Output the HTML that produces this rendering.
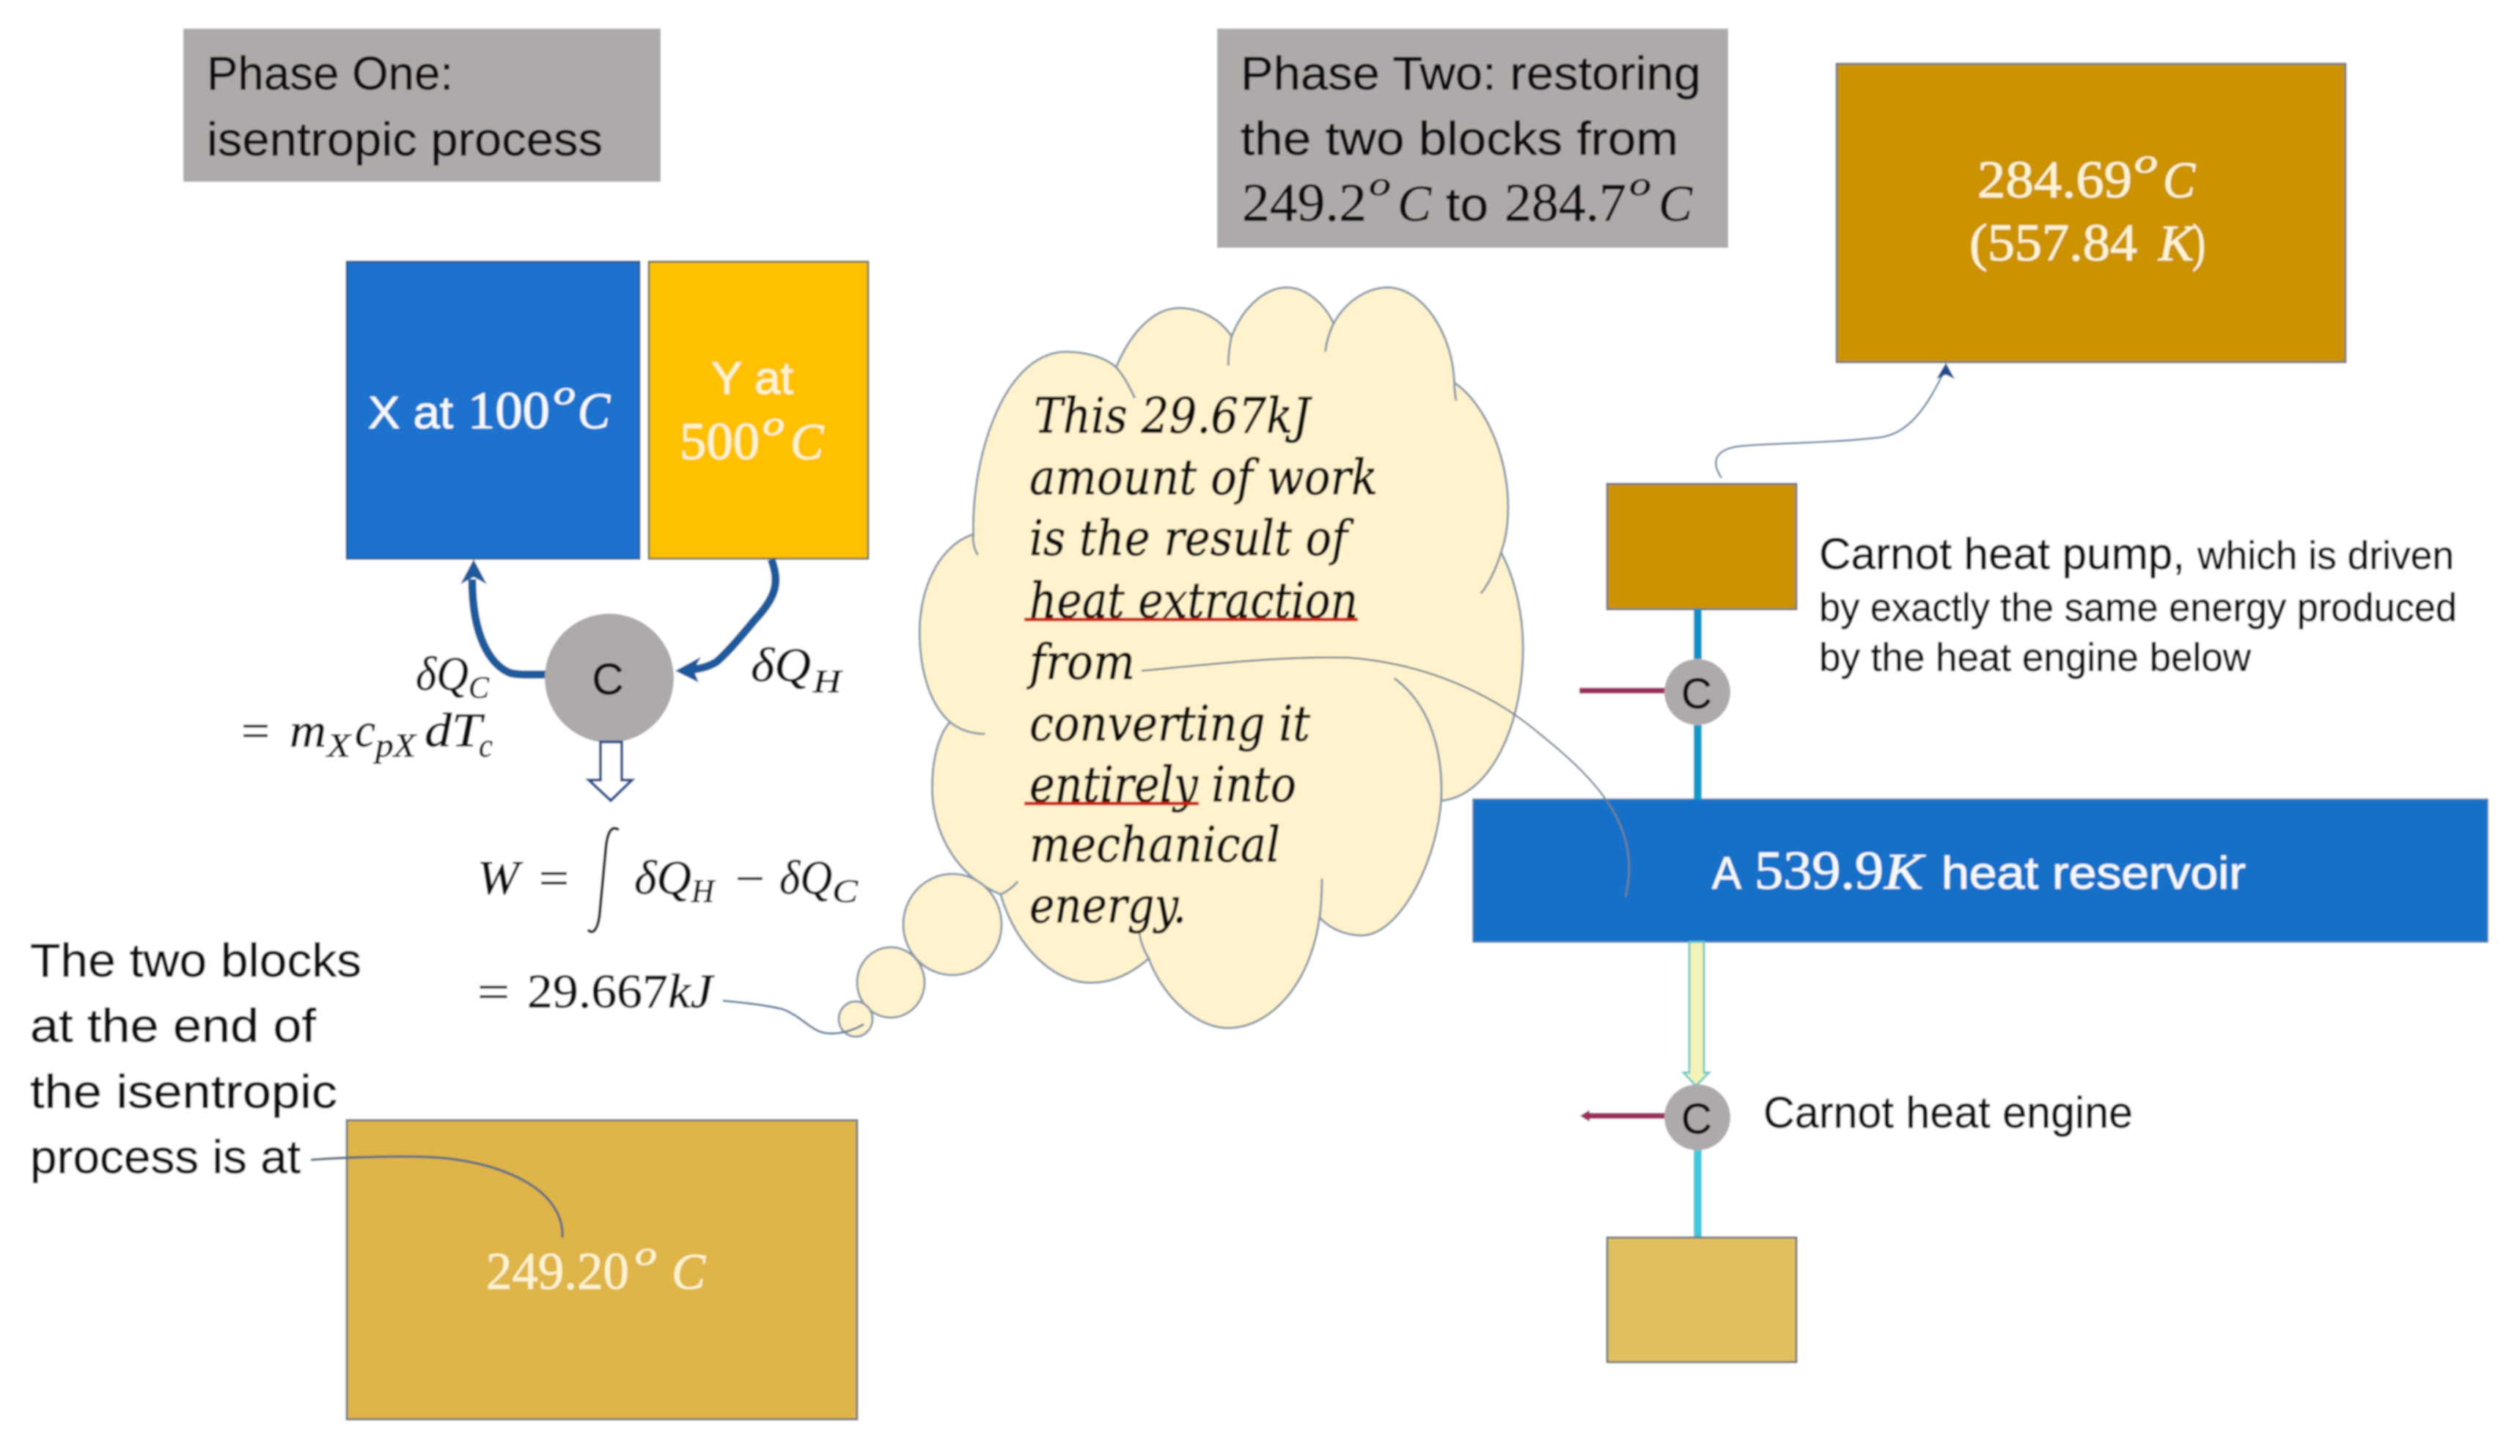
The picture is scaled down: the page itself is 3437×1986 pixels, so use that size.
<!DOCTYPE html>
<html><head><meta charset="utf-8"><style>
html,body{margin:0;padding:0;background:#fff;width:3437px;height:1986px;overflow:hidden}
svg{display:block}
.s{font-family:"Liberation Sans",sans-serif;fill:#0e0e0e;stroke:#0e0e0e;stroke-width:.7px}
.m{font-family:"Liberation Serif",serif;fill:#0e0e0e;stroke:#0e0e0e;stroke-width:.7px}
.i{font-family:"Liberation Serif",serif;font-style:italic;fill:#0e0e0e;stroke:#0e0e0e;stroke-width:.7px}
.c{fill:#fdf3d0;stroke:#fdf3d0}.w{fill:#f4f8fc;stroke:#f4f8fc}
.t{font-family:"DejaVu Serif",serif;font-style:italic;fill:#0e0e0e;font-size:66px;stroke:#0e0e0e;stroke-width:.9px}
</style></head><body>
<svg xmlns="http://www.w3.org/2000/svg" width="3437" height="1986" viewBox="0 0 3437 1986">
<defs>
<filter id="b" x="0" y="0" width="100%" height="100%"><feGaussianBlur stdDeviation="1"/></filter>
</defs>
<g filter="url(#b)">
<rect width="3437" height="1986" fill="#fff"/>
<!-- Header boxes -->
<rect x="250" y="39" width="651" height="209" fill="#aeaaa9"/>
<text class="s" x="282" y="122" font-size="64" textLength="336" lengthAdjust="spacingAndGlyphs">Phase One:</text>
<text class="s" x="282" y="212" font-size="64" textLength="540" lengthAdjust="spacingAndGlyphs">isentropic process</text>

<rect x="1660" y="39" width="697" height="299" fill="#aeaaa9"/>
<text class="s" x="1692" y="122" font-size="64" textLength="628" lengthAdjust="spacingAndGlyphs">Phase Two: restoring</text>
<text class="s" x="1692" y="211" font-size="64" textLength="597" lengthAdjust="spacingAndGlyphs">the two blocks from</text>
<text class="m" x="1694" y="301" font-size="74" textLength="170" lengthAdjust="spacingAndGlyphs">249.2</text>
<text class="i" x="1867" y="266" font-size="46" textLength="30" lengthAdjust="spacingAndGlyphs">o</text>
<text class="i" x="1906" y="301" font-size="70" textLength="46" lengthAdjust="spacingAndGlyphs">C</text>
<text class="s" x="1972" y="301" font-size="64" textLength="58" lengthAdjust="spacingAndGlyphs">to</text>
<text class="m" x="2052" y="301" font-size="74" textLength="166" lengthAdjust="spacingAndGlyphs">284.7</text>
<text class="i" x="2222" y="266" font-size="46" textLength="30" lengthAdjust="spacingAndGlyphs">o</text>
<text class="i" x="2262" y="301" font-size="70" textLength="46" lengthAdjust="spacingAndGlyphs">C</text>

<!-- Top right box -->
<rect x="2505" y="87" width="694" height="407" fill="#cc9200" stroke="#6e7a7f" stroke-width="3"/>
<text class="m c" x="2697" y="269" font-size="72" textLength="211" lengthAdjust="spacingAndGlyphs">284.69</text>
<text class="i c" x="2911" y="235" font-size="46" textLength="32" lengthAdjust="spacingAndGlyphs">o</text>
<text class="i c" x="2950" y="269" font-size="70" textLength="44" lengthAdjust="spacingAndGlyphs">C</text>
<text class="m c" x="2686" y="355" font-size="72" textLength="229" lengthAdjust="spacingAndGlyphs">(557.84</text>
<text class="i c" x="2944" y="355" font-size="70" textLength="48" lengthAdjust="spacingAndGlyphs">K</text>
<text class="m c" x="2990" y="355" font-size="72" textLength="18" lengthAdjust="spacingAndGlyphs">)</text>

<!-- X and Y blocks -->
<rect x="473" y="357" width="399" height="405" fill="#1a72cc" stroke="#2a5f95" stroke-width="3"/>
<rect x="885" y="357" width="299" height="405" fill="#ffc000" stroke="#7a7a50" stroke-width="3"/>
<text class="s w" x="502" y="584" font-size="62" textLength="116" lengthAdjust="spacingAndGlyphs">X at</text>
<text class="m w" x="638" y="584" font-size="72" textLength="112" lengthAdjust="spacingAndGlyphs">100</text>
<text class="i w" x="755" y="551" font-size="46" textLength="30" lengthAdjust="spacingAndGlyphs">o</text>
<text class="i w" x="788" y="584" font-size="70" textLength="44" lengthAdjust="spacingAndGlyphs">C</text>
<text class="s c" x="970" y="537" font-size="62" textLength="112" lengthAdjust="spacingAndGlyphs">Y at</text>
<text class="m c" x="927" y="626" font-size="72" textLength="109" lengthAdjust="spacingAndGlyphs">500</text>
<text class="i c" x="1040" y="593" font-size="46" textLength="30" lengthAdjust="spacingAndGlyphs">o</text>
<text class="i c" x="1078" y="626" font-size="70" textLength="45" lengthAdjust="spacingAndGlyphs">C</text>

<!-- Engine arrows -->
<path d="M745,920 C725,920 708,921 696,918 C670,908 644,870 644,790" fill="none" stroke="#1a5a9c" stroke-width="11"/>
<path d="M646,763 L628,797 L646,787 L664,797 Z" fill="#1a5a9c"/>
<path d="M1052,763 C1064,795 1058,815 1029,846 C1005,875 990,892 977,903 C965,910 955,912 940,914" fill="none" stroke="#1a5a9c" stroke-width="11"/>
<path d="M921,915 L956,896 L946,914 L953,931 Z" fill="#1a5a9c"/>
<ellipse cx="831" cy="925" rx="88" ry="88" fill="#aeaaa9"/>
<text class="s" x="829" y="947" font-size="60" text-anchor="middle">C</text>
<path d="M819,1012 H848 V1064 H862 L833,1092 L803,1064 H819 Z" fill="#fff" stroke="#1f4e8a" stroke-width="4"/>

<!-- Math labels -->
<text class="i" x="567" y="941" font-size="66" textLength="72" lengthAdjust="spacingAndGlyphs">δQ</text>
<text class="i" x="639" y="952" font-size="42" textLength="28" lengthAdjust="spacingAndGlyphs">C</text>
<text class="m" x="329" y="1018" font-size="64" textLength="39" lengthAdjust="spacingAndGlyphs">=</text>
<text class="i" x="395" y="1018" font-size="66" textLength="50" lengthAdjust="spacingAndGlyphs">m</text>
<text class="i" x="446" y="1032" font-size="46" textLength="32" lengthAdjust="spacingAndGlyphs">X</text>
<text class="i" x="484" y="1018" font-size="66" textLength="28" lengthAdjust="spacingAndGlyphs">c</text>
<text class="i" x="512" y="1032" font-size="46" textLength="55" lengthAdjust="spacingAndGlyphs">pX</text>
<text class="i" x="579" y="1018" font-size="66" textLength="78" lengthAdjust="spacingAndGlyphs">dT</text>
<text class="i" x="653" y="1032" font-size="46" textLength="19" lengthAdjust="spacingAndGlyphs">c</text>
<text class="i" x="1024" y="929" font-size="66" textLength="82" lengthAdjust="spacingAndGlyphs">δQ</text>
<text class="i" x="1109" y="944" font-size="44" textLength="38" lengthAdjust="spacingAndGlyphs">H</text>

<text class="i" x="651" y="1219" font-size="66" textLength="57" lengthAdjust="spacingAndGlyphs">W</text>
<text class="m" x="735" y="1219" font-size="64" textLength="41" lengthAdjust="spacingAndGlyphs">=</text>
<path d="M844,1132 C834,1125 828,1135 826,1160 L818,1245 C816,1268 808,1276 802,1268" fill="none" stroke="#111" stroke-width="4"/>
<text class="i" x="865" y="1219" font-size="66" textLength="78" lengthAdjust="spacingAndGlyphs">δQ</text>
<text class="i" x="943" y="1230" font-size="44" textLength="31" lengthAdjust="spacingAndGlyphs">H</text>
<text class="m" x="1003" y="1219" font-size="62" textLength="40" lengthAdjust="spacingAndGlyphs">−</text>
<text class="i" x="1063" y="1219" font-size="66" textLength="72" lengthAdjust="spacingAndGlyphs">δQ</text>
<text class="i" x="1135" y="1230" font-size="44" textLength="35" lengthAdjust="spacingAndGlyphs">C</text>
<text class="m" x="651" y="1374" font-size="64" textLength="44" lengthAdjust="spacingAndGlyphs">=</text>
<text class="m" x="719" y="1374" font-size="66" textLength="192" lengthAdjust="spacingAndGlyphs">29.667</text>
<text class="i" x="911" y="1374" font-size="66" textLength="61" lengthAdjust="spacingAndGlyphs">kJ</text>

<!-- Left text -->
<text class="s" x="41" y="1332" font-size="64" textLength="452" lengthAdjust="spacingAndGlyphs">The two blocks</text>
<text class="s" x="41" y="1421" font-size="64" textLength="390" lengthAdjust="spacingAndGlyphs">at the end of</text>
<text class="s" x="41" y="1511" font-size="64" textLength="419" lengthAdjust="spacingAndGlyphs">the isentropic</text>
<text class="s" x="41" y="1600" font-size="64" textLength="369" lengthAdjust="spacingAndGlyphs">process is at</text>

<!-- 249 box -->
<rect x="473" y="1528" width="696" height="408" fill="#dfb44a" stroke="#6e7a7f" stroke-width="3"/>
<path d="M424,1582 C480,1578 560,1576 597,1579 C680,1585 770,1620 767,1688" fill="none" stroke="#5f6f7f" stroke-width="3.5"/>
<text class="m c" x="663" y="1758" font-size="72" textLength="195" lengthAdjust="spacingAndGlyphs">249.20</text>
<text class="i c" x="866" y="1725" font-size="46" textLength="30" lengthAdjust="spacingAndGlyphs">o</text>
<text class="i c" x="916" y="1758" font-size="70" textLength="46" lengthAdjust="spacingAndGlyphs">C</text>

<!-- Cloud -->
<g transform="translate(1200 350) scale(.638 .7015)">
<path d="M258,1240 C150,1200 110,1100 112,1030 C112,980 125,930 150,905 C105,870 85,800 85,730 C85,640 130,560 200,540 C195,400 260,190 395,185 C440,185 480,195 505,215 C540,140 590,100 640,100 C690,100 730,125 752,155 C780,90 830,60 870,60 C910,60 950,90 970,130 C1000,80 1050,60 1085,60 C1160,60 1225,150 1228,245 C1300,290 1345,400 1343,490 C1343,520 1338,550 1328,575 C1360,630 1375,700 1375,760 C1375,920 1300,1050 1200,1058 C1190,1180 1110,1320 1030,1320 C1000,1320 965,1310 940,1285 C920,1420 830,1500 745,1500 C670,1500 600,1430 575,1365 C530,1400 490,1412 450,1412 C370,1412 290,1340 258,1240 Z" fill="#fff2cc" stroke="#8497a8" stroke-width="3" vector-effect="non-scaling-stroke"/>
<g fill="none" stroke="#8497a8" stroke-width="3">
<path vector-effect="non-scaling-stroke" d="M150,905 C170,920 195,928 225,928"/>
<path vector-effect="non-scaling-stroke" d="M200,540 C198,555 202,570 210,580"/>
<path vector-effect="non-scaling-stroke" d="M505,215 C520,230 535,255 545,275"/>
<path vector-effect="non-scaling-stroke" d="M752,155 C748,170 745,190 745,212"/>
<path vector-effect="non-scaling-stroke" d="M970,130 C962,145 955,165 952,185"/>
<path vector-effect="non-scaling-stroke" d="M1228,245 C1228,258 1230,270 1232,280"/>
<path vector-effect="non-scaling-stroke" d="M1328,575 C1318,605 1305,632 1285,655"/>
<path vector-effect="non-scaling-stroke" d="M1200,1058 C1205,960 1175,870 1100,820"/>
<path vector-effect="non-scaling-stroke" d="M940,1285 C944,1260 945,1235 945,1210"/>
<path vector-effect="non-scaling-stroke" d="M575,1365 C565,1350 558,1335 555,1315"/>
<path vector-effect="non-scaling-stroke" d="M258,1240 C272,1235 285,1225 295,1215"/>
</g>
</g>
<ellipse cx="1299" cy="1261" rx="67" ry="69" fill="#fff2cc" stroke="#8497a8" stroke-width="3"/>
<ellipse cx="1215" cy="1340" rx="46" ry="48" fill="#fff2cc" stroke="#8497a8" stroke-width="3"/>
<ellipse cx="1167" cy="1390" rx="23" ry="24" fill="#fff2cc" stroke="#8497a8" stroke-width="3"/>
<path d="M986,1365 C1020,1368 1050,1372 1069,1377 C1095,1388 1105,1405 1125,1409 C1145,1412 1165,1405 1178,1397" fill="none" stroke="#5f7f9f" stroke-width="3"/>

<text class="t" x="1410" y="590" textLength="377" lengthAdjust="spacingAndGlyphs">This 29.67kJ</text>
<text class="t" x="1404" y="674" textLength="475" lengthAdjust="spacingAndGlyphs">amount of work</text>
<text class="t" x="1404" y="757" textLength="434" lengthAdjust="spacingAndGlyphs">is the result of</text>
<text class="t" x="1404" y="842" textLength="448" lengthAdjust="spacingAndGlyphs">heat extraction</text>
<text class="t" x="1404" y="926" textLength="144" lengthAdjust="spacingAndGlyphs">from</text>
<text class="t" x="1404" y="1010" textLength="383" lengthAdjust="spacingAndGlyphs">converting it</text>
<text class="t" x="1404" y="1093" textLength="364" lengthAdjust="spacingAndGlyphs">entirely into</text>
<text class="t" x="1404" y="1175" textLength="342" lengthAdjust="spacingAndGlyphs">mechanical</text>
<text class="t" x="1404" y="1258" textLength="214" lengthAdjust="spacingAndGlyphs">energy.</text>
<line x1="1397" y1="845" x2="1852" y2="845" stroke="#c8200f" stroke-width="5"/>
<line x1="1397" y1="1096" x2="1635" y2="1096" stroke="#c8200f" stroke-width="5"/>

<!-- Reservoir -->
<rect x="2009" y="1090" width="1384" height="195" fill="#1870c8" stroke="#5a86b0" stroke-width="2"/>
<text class="s w" x="2335" y="1212" font-size="62" textLength="40" lengthAdjust="spacingAndGlyphs">A</text>
<text class="m w" x="2393" y="1212" font-size="74" textLength="176" lengthAdjust="spacingAndGlyphs">539.9</text>
<text class="i w" x="2570" y="1212" font-size="70" textLength="53" lengthAdjust="spacingAndGlyphs">K</text>
<text class="s w" x="2648" y="1212" font-size="62" textLength="415" lengthAdjust="spacingAndGlyphs">heat reservoir</text>

<!-- Leader lines -->
<path d="M1557,915 C1660,905 1750,895 1838,897 C1950,905 2040,950 2100,1001 C2180,1065 2240,1130 2217,1223" fill="none" stroke="#6f8293" stroke-width="2.5"/>
<path d="M2348,652 C2330,625 2345,610 2380,608 C2430,604 2500,604 2560,597 C2605,594 2630,550 2650,510" fill="none" stroke="#5f7f9f" stroke-width="2.5"/>
<path d="M2654,495 L2641,517 L2654,511 L2666,517 Z" fill="#1f4e8a"/>

<!-- Pump -->
<rect x="2192" y="660" width="258" height="171" fill="#cc9200" stroke="#6e7a7f" stroke-width="3"/>
<rect x="2310" y="831" width="11" height="68" fill="#0e90c4"/>
<rect x="2310" y="989" width="11" height="102" fill="#0898c8"/>
<path d="M2154,942 H2272" stroke="#9b2d5c" stroke-width="8" fill="none"/>
<ellipse cx="2315" cy="944" rx="45" ry="45" fill="#aeaaa9"/>
<text class="s" x="2314" y="966" font-size="58" text-anchor="middle">C</text>
<text class="s" x="2481" y="776" font-size="60" textLength="499" lengthAdjust="spacingAndGlyphs">Carnot heat pump,</text>
<text class="s" x="2997" y="776" font-size="54" textLength="350" lengthAdjust="spacingAndGlyphs">which is driven</text>
<text class="s" x="2481" y="847" font-size="54" textLength="870" lengthAdjust="spacingAndGlyphs">by exactly the same energy produced</text>
<text class="s" x="2481" y="915" font-size="54" textLength="589" lengthAdjust="spacingAndGlyphs">by the heat engine below</text>

<!-- Engine -->
<path d="M2304,1285 H2324 V1463 H2331 L2313,1481 L2296,1463 H2304 Z" fill="#f4f3b8" stroke="#6cc8c8" stroke-width="3"/>
<rect x="2310" y="1560" width="11" height="128" fill="#40c8d8"/>
<path d="M2162,1522 H2274" stroke="#9b2d5c" stroke-width="8" fill="none"/>
<path d="M2155,1522 L2168,1514 V1530 Z" fill="#9b2d5c"/>
<ellipse cx="2315" cy="1524" rx="45" ry="45" fill="#aeaaa9"/>
<text class="s" x="2314" y="1546" font-size="58" text-anchor="middle">C</text>
<text class="s" x="2405" y="1538" font-size="60" textLength="504" lengthAdjust="spacingAndGlyphs">Carnot heat engine</text>
<rect x="2192" y="1688" width="258" height="170" fill="#e0bf60" stroke="#6e7a7f" stroke-width="3"/>
</g>
</svg>
</body></html>
